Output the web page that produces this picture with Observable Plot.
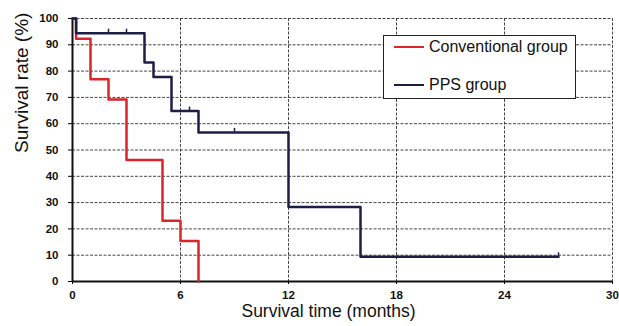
<!DOCTYPE html>
<html>
<head>
<meta charset="utf-8">
<script src="https://cdn.jsdelivr.net/npm/d3@7"></script>
<script src="https://cdn.jsdelivr.net/npm/@observablehq/plot@0.6"></script>
<style>
  body { margin: 0; background: #fff; font-family: "Liberation Sans", Arial, sans-serif; }
  #wrap { position: relative; width: 619px; height: 326px; }
  #legend { position: absolute; left: 383px; top: 35px; width: 191px; height: 62px;
    border: 1.5px solid #222; background: #fff; }
  .lg { position: absolute; left: 10px; display: flex; align-items: center; font-size: 16px; color: #111; }
  .lg span.sw { display: inline-block; width: 30px; height: 2.5px; margin-right: 5px; }
</style>
</head>
<body>
<div id="wrap">
  <div id="chart"></div>
  <div id="legend">
    <div class="lg" style="top:2px"><span class="sw" style="background:#d8262a"></span>Conventional group</div>
    <div class="lg" style="top:40px"><span class="sw" style="background:#1c1f45"></span>PPS group</div>
  </div>
</div>
<script>
const xTicks = [0, 6, 12, 18, 24, 30];
const yTicks = [0, 10, 20, 30, 40, 50, 60, 70, 80, 90, 100];

const convTime = [0, 0.2, 1, 2, 3, 5, 6, 7];
const convSurv = [100, 92.3, 76.9, 69.2, 46.2, 23.1, 15.4, 0];

const ppsTime = [0, 0.2, 4, 4.5, 5.5, 7, 12, 16, 27];
const ppsSurv = [100, 94.4, 83.3, 77.8, 64.8, 56.7, 28.3, 9.4, 9.4];

const censorTime = [2, 3, 6.5, 9, 27];
const censorSurv = [94.4, 94.4, 64.8, 56.7, 9.4];

const conv = convTime.map((t, i) => ({t, s: convSurv[i]}));
const pps = ppsTime.map((t, i) => ({t, s: ppsSurv[i]}));
const cens = censorTime.map((t, i) => ({t, s: censorSurv[i]}));

const chart = Plot.plot({
  width: 619, height: 326,
  marginLeft: 72, marginRight: 7, marginTop: 18, marginBottom: 45,
  style: { fontFamily: "Liberation Sans, Arial, sans-serif", background: "#fff" },
  x: { domain: [0, 30] },
  y: { domain: [0, 100] },
  marks: [
    Plot.gridX(xTicks, { stroke: "#333", strokeOpacity: 0.9, strokeDasharray: "3,1.5", strokeWidth: 1 }),
    Plot.gridY(yTicks, { stroke: "#333", strokeOpacity: 0.9, strokeDasharray: "3,1.5", strokeWidth: 1 }),
    Plot.axisX(xTicks, { tickSize: 3, tickPadding: 6, fontSize: 11.5, fontWeight: "bold", fill: "#111", label: null }),
    Plot.axisY(yTicks, { tickSize: 4, tickPadding: 10, fontSize: 11.5, fontWeight: "bold", fill: "#111", label: null }),
    Plot.ruleX([0], { stroke: "#111", strokeWidth: 2 }),
    Plot.ruleY([0], { stroke: "#111", strokeWidth: 2 }),
    Plot.line(conv, { x: "t", y: "s", curve: "step-after", stroke: "#d8262a", strokeWidth: 2.5 }),
    Plot.line(pps, { x: "t", y: "s", curve: "step-after", stroke: "#1c1f45", strokeWidth: 2.5 }),
    Plot.ruleX(cens, { x: "t", y1: "s", y2: "s", insetTop: -4, stroke: "#1c1f45", strokeWidth: 1.5 }),
    Plot.text(["Survival time (months)"], { frameAnchor: "bottom", dy: 35, dx: -14, fontSize: 17.5, fill: "#111" }),
    Plot.text(["Survival rate (%)"], { frameAnchor: "left", dx: -51, dy: 3, rotate: -90, fontSize: 19, fill: "#111" })
  ]
});
document.getElementById("chart").appendChild(chart);
</script>
</body>
</html>
